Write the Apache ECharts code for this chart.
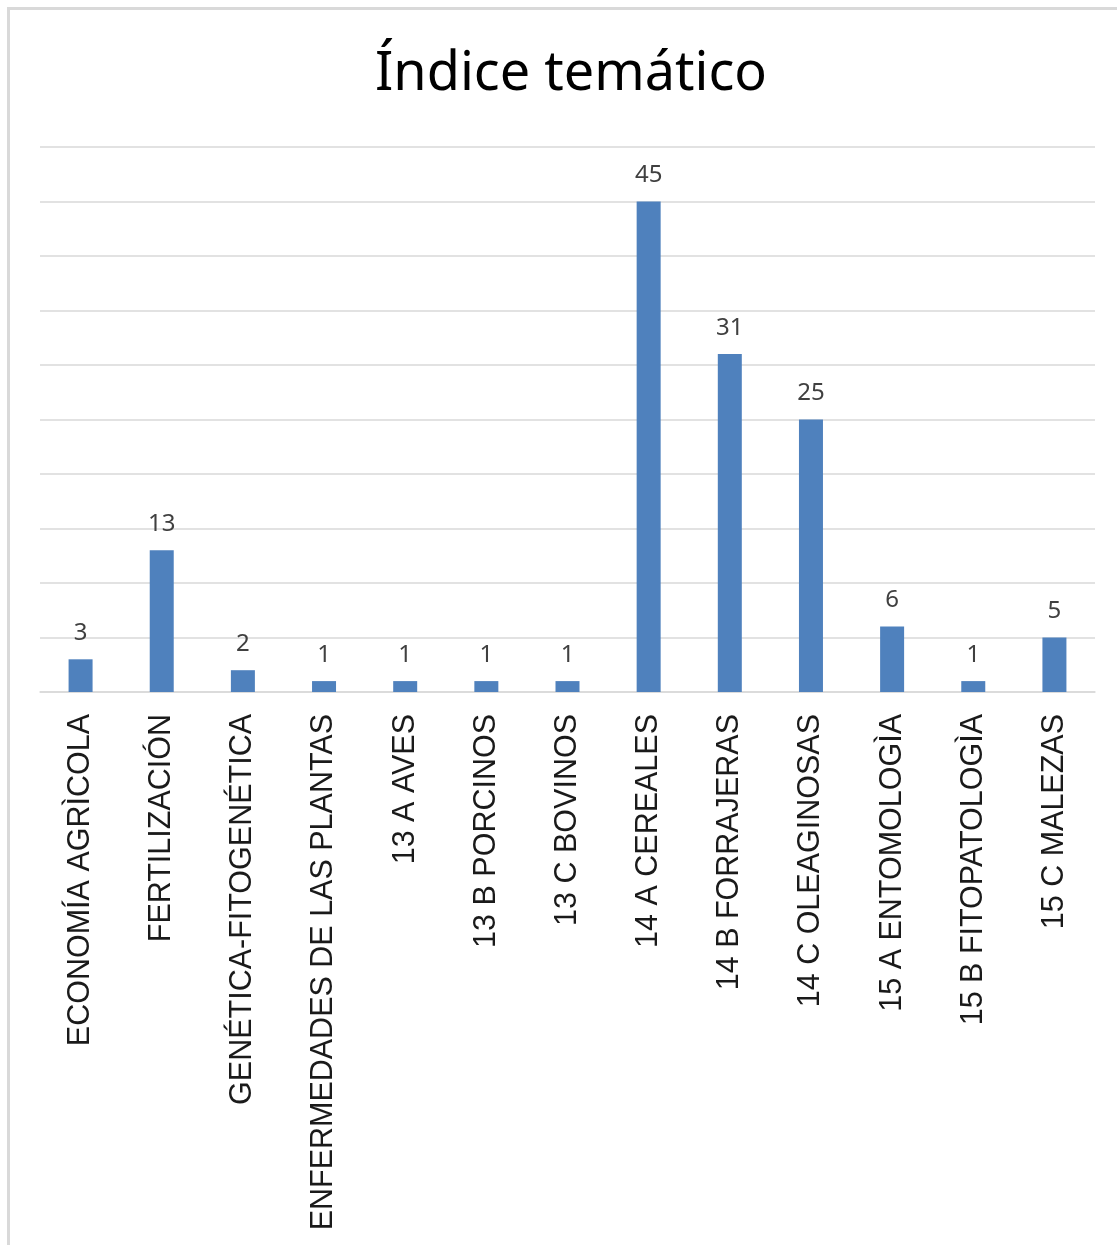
<!DOCTYPE html>
<html>
<head>
<meta charset="utf-8">
<script src="https://cdn.jsdelivr.net/npm/echarts@6/dist/echarts.min.js"></script>
<style>
html,body{margin:0;padding:0;background:#fff;overflow:hidden;}
#frame{position:absolute;left:7px;top:7px;width:1200px;height:1300px;border-left:3px solid #d9d9d9;border-top:3px solid #d9d9d9;}
#chart{position:absolute;left:0;top:0;width:1117px;height:1245px;}
</style>
</head>
<body>
<div id="frame"></div>
<div id="chart"></div>
<script>
const title = 'Índice temático';
const categories = ['ECONOMÍA AGRÌCOLA','FERTILIZACIÓN','GENÉTICA-FITOGENÉTICA','ENFERMEDADES DE LAS PLANTAS','13 A AVES','13 B PORCINOS','13 C BOVINOS','14 A CEREALES','14 B FORRAJERAS','14 C OLEAGINOSAS','15 A ENTOMOLOGÌA','15 B FITOPATOLOGÌA','15 C MALEZAS'];
const values = [3,13,2,1,1,1,1,45,31,25,6,1,5];

const chart = echarts.init(document.getElementById('chart'), null, {renderer:'canvas'});
chart.setOption({
  backgroundColor: 'transparent',
  animation: false,
  title: {
    text: title, left: 370, top: 43,
    textStyle: {fontFamily: '"Noto Sans", sans-serif', fontSize: 54, fontWeight: 'normal', color: '#000'}
  },
  grid: {left: 40, right: 22, top: 147, bottom: 553, containLabel: false},
  xAxis: {
    type: 'category', data: categories,
    axisLine: {lineStyle: {color: '#d9d9d9', width: 1.5}},
    axisTick: {show: false},
    axisLabel: {rotate: 90, margin: 22, interval: 0, fontFamily: '"Liberation Sans", Arial, sans-serif', fontSize: 30.5, color: '#1a1a1a'}
  },
  yAxis: {
    type: 'value', min: 0, max: 50, interval: 5,
    axisLabel: {show: false}, axisLine: {show: false}, axisTick: {show: false},
    splitLine: {lineStyle: {color: '#d9d9d9', width: 1.5}}
  },
  series: [{
    type: 'bar', data: values, barWidth: 24,
    itemStyle: {color: '#4f81bd'},
    label: {show: true, position: 'top', distance: 14, fontFamily: '"Noto Sans", sans-serif', fontSize: 24, color: '#404040'}
  }]
});
</script>
</body>
</html>
